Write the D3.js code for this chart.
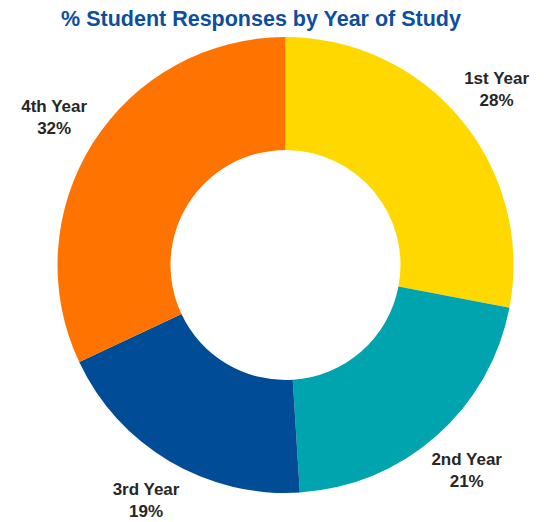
<!DOCTYPE html>
<html>
<head>
    <script src="https://d3js.org/d3.v7.min.js"></script>
    <style>
        body { margin: 0; background: #fff; }
    </style>
</head>
<body>
    <div id="chart">
        <svg width="548" height="522"></svg>
    </div>
    <script>
        // data
        var years = ["1st Year", "2nd Year", "3rd Year", "4th Year"];
        var shares = [28, 21, 19, 32];
        var colours = ["#FFD800", "#00A4AE", "#004C97", "#FF7300"];

        var svg = d3.select("#chart svg");

        svg.append("text")
            .attr("x", 261)
            .attr("y", 26)
            .attr("text-anchor", "middle")
            .style("font-family", "Liberation Sans, Arial, sans-serif")
            .style("font-weight", "bold")
            .style("font-size", "21.5px")
            .style("fill", "#0B4F9E")
            .text("% Student Responses by Year of Study");

        var cx = 285.5, cy = 265, rOuter = 228, rInner = 115;

        var pie = d3.pie().sort(null).value(function(d) { return d; });
        var arcs = pie(shares);

        var arc = d3.arc().innerRadius(rInner).outerRadius(rOuter);
        var labelArc = d3.arc().innerRadius(274).outerRadius(274);

        var g = svg.append("g").attr("transform", "translate(" + cx + "," + cy + ")");

        g.selectAll("path")
            .data(arcs)
            .enter()
            .append("path")
            .attr("d", arc)
            .attr("fill", function(d, i) { return colours[i]; });

        var labels = g.selectAll("text.lbl")
            .data(arcs)
            .enter()
            .append("text")
            .attr("class", "lbl")
            .attr("text-anchor", "middle")
            .attr("transform", function(d) {
                var c = labelArc.centroid(d);
                return "translate(" + c[0] + "," + c[1] + ")";
            })
            .style("font-family", "Liberation Sans, Arial, sans-serif")
            .style("font-weight", "bold")
            .style("font-size", "17px")
            .style("fill", "#262626");

        labels.append("tspan")
            .attr("x", 0)
            .attr("y", -6)
            .text(function(d, i) { return years[i]; });
        labels.append("tspan")
            .attr("x", 0)
            .attr("y", 16)
            .text(function(d, i) { return shares[i] + "%"; });
    </script>
</body>
</html>
